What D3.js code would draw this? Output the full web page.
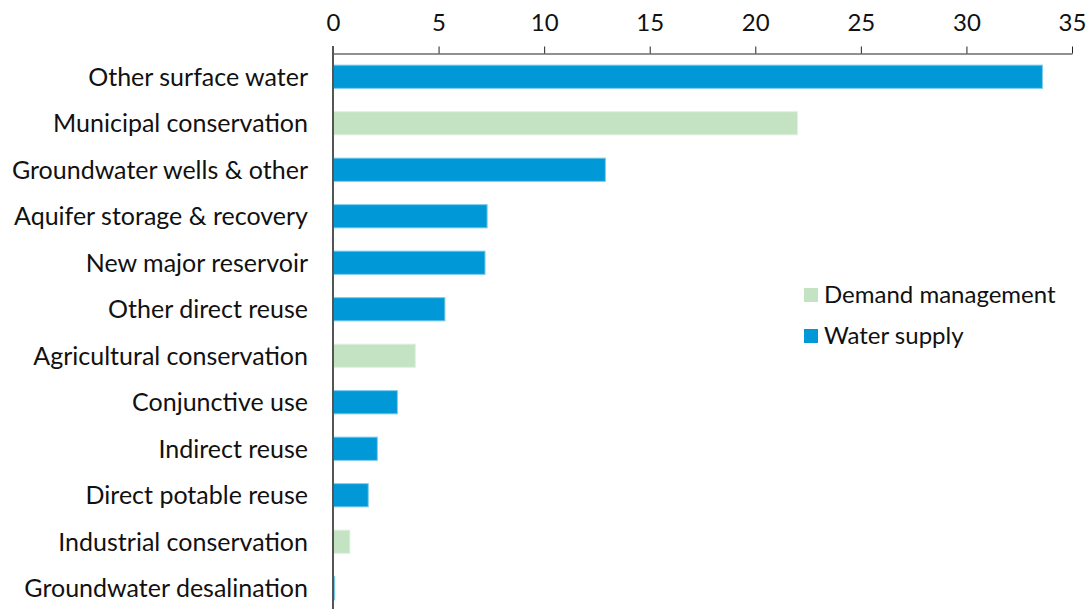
<!DOCTYPE html>
<html>
<head>
<meta charset="utf-8">
<script src="https://cdn.jsdelivr.net/npm/d3@7"></script>
<style>
  body { margin: 0; background: #fff; }
  text { font-family: Lato, "Open Sans", sans-serif; fill: #111; }
</style>
</head>
<body>
<div class="canvas"></div>
<script>
const categories = [
    'Other surface water', 'Municipal conservation', 'Groundwater wells & other',
    'Aquifer storage & recovery', 'New major reservoir', 'Other direct reuse',
    'Agricultural conservation', 'Conjunctive use', 'Indirect reuse',
    'Direct potable reuse', 'Industrial conservation', 'Groundwater desalination'
];
const values = [33.6, 22.0, 12.9, 7.3, 7.2, 5.3, 3.9, 3.05, 2.1, 1.67, 0.8, 0.08];
const groups = [
    'Water supply', 'Demand management', 'Water supply', 'Water supply', 'Water supply',
    'Water supply', 'Demand management', 'Water supply', 'Water supply', 'Water supply',
    'Demand management', 'Water supply'
];
const legendNames = ['Demand management', 'Water supply'];
const ticks = [0, 5, 10, 15, 20, 25, 30, 35];

const dimensions = { width: 1089, height: 609 };

const svg = d3.select('.canvas')
    .append('svg')
    .attr('width', dimensions.width)
    .attr('height', dimensions.height);

const data = categories.map((name, i) => ({ name, value: values[i], group: groups[i] }));

const x = d3.scaleLinear().domain([0, 35]).range([333, 1072]);
const y = d3.scaleBand().domain(categories).range([53.5, 611.5])
    .paddingInner(0.5)
    .paddingOuter(0.25);

const fill = d3.scaleOrdinal().domain(legendNames).range(['#c3e3c3', '#0098d6']);
const edge = d3.scaleOrdinal().domain(legendNames).range(['#e2f1e2', '#7fccec']);

// bars
svg.selectAll('.bar')
    .data(data)
    .enter()
    .append('rect')
    .attr('class', 'bar')
    .attr('x', x(0))
    .attr('y', d => y(d.name))
    .attr('width', d => x(d.value) - x(0))
    .attr('height', y.bandwidth())
    .attr('fill', d => fill(d.group))
    .attr('stroke', d => edge(d.group))
    .attr('stroke-width', 1);

// top axis
const xAxis = svg.append('g')
    .attr('transform', 'translate(0, 53.5)')
    .call(d3.axisTop(x).tickValues(ticks).tickSize(7).tickPadding(16).tickSizeOuter(0));
xAxis.select('.domain').attr('stroke', '#222');
xAxis.selectAll('.tick line').attr('stroke', '#222');
xAxis.selectAll('text')
    .attr('font-size', 24)
    .attr('font-family', 'Lato, sans-serif')
    .attr('fill', '#111');

// left axis line
svg.append('line')
    .attr('x1', x(0)).attr('x2', x(0))
    .attr('y1', 46).attr('y2', dimensions.height)
    .attr('stroke', '#555')
    .attr('stroke-width', 2);

// category labels
svg.selectAll('.label')
    .data(data)
    .enter()
    .append('text')
    .attr('class', 'label')
    .attr('x', 308)
    .attr('y', d => y(d.name) + y.bandwidth() / 2)
    .attr('dy', '0.35em')
    .attr('text-anchor', 'end')
    .attr('font-size', 25)
    .text(d => d.name);

// legend
const legend = svg.selectAll('.legend')
    .data(legendNames)
    .enter()
    .append('g')
    .attr('class', 'legend')
    .attr('transform', (d, i) => `translate(804, ${295 + i * 41})`);

legend.append('rect')
    .attr('x', 0).attr('y', -7)
    .attr('width', 14).attr('height', 14)
    .attr('fill', d => fill(d));

legend.append('text')
    .attr('x', 20)
    .attr('dy', '0.35em')
    .attr('font-size', 24)
    .text(d => d);
</script>
</body>
</html>
